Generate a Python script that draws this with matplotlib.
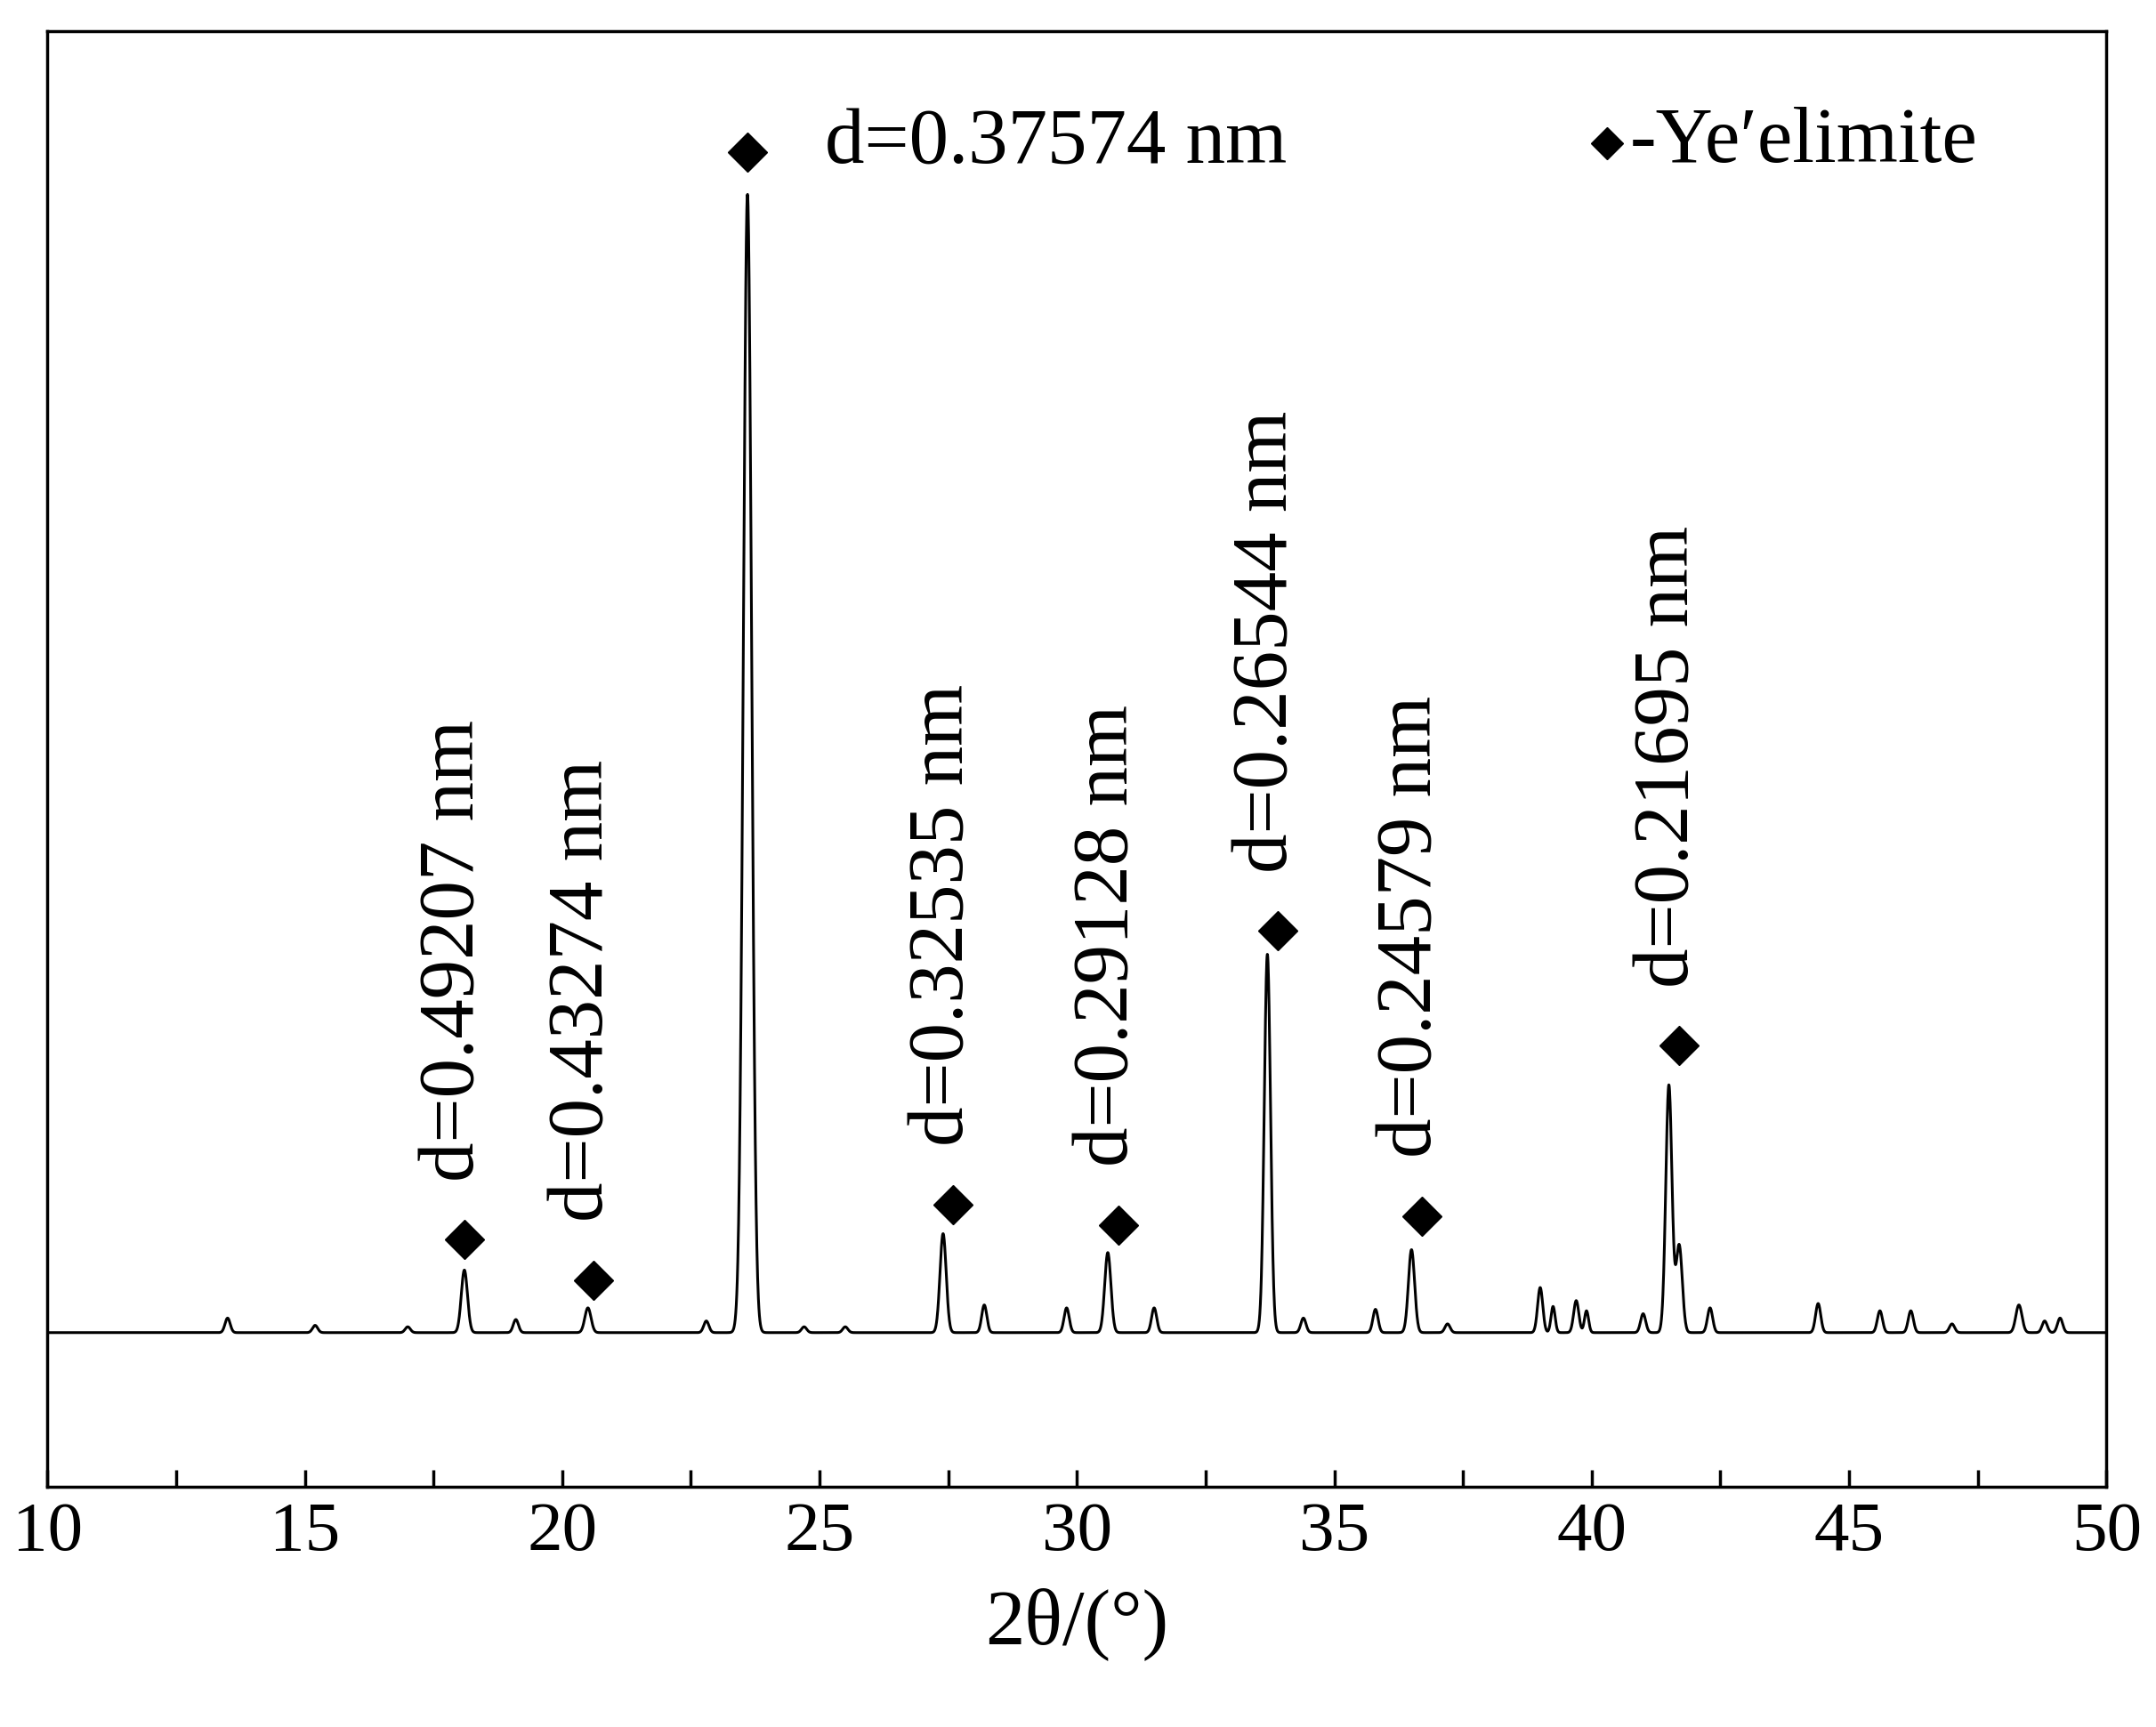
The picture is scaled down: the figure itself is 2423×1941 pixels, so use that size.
import numpy as np
import matplotlib.pyplot as plt

plt.rcParams['font.family'] = ['Liberation Serif', 'DejaVu Serif']

peak_pos = [13.5, 15.2, 17.0, 18.1, 19.1, 20.5, 22.8, 23.6, 24.7, 25.5, 27.4, 28.2, 29.8, 30.6, 31.5,
            33.7, 34.4, 35.8, 36.5, 37.2, 39.0, 39.25, 39.7, 39.9, 41.0, 41.5, 41.7, 42.3, 44.4,
            45.6, 46.2, 47.0, 48.3, 48.8, 49.1]
peak_h = [1.0, 0.5, 0.4, 4.3, 0.9, 1.7, 0.8, 78.2, 0.4, 0.4, 6.8, 1.9, 1.7, 5.5, 1.7,
          26.0, 1.0, 1.6, 5.7, 0.6, 3.1, 1.8, 2.2, 1.5, 1.3, 17.0, 6.0, 1.7, 2.0,
          1.5, 1.5, 0.6, 1.9, 0.8, 1.0]
peak_w = [0.05, 0.05, 0.05, 0.06, 0.05, 0.06, 0.05, 0.08, 0.05, 0.05, 0.06, 0.05, 0.05, 0.06, 0.05,
          0.06, 0.05, 0.05, 0.06, 0.05, 0.05, 0.04, 0.05, 0.04, 0.05, 0.06, 0.06, 0.05, 0.05,
          0.05, 0.05, 0.05, 0.06, 0.05, 0.05]
baseline = 10.6

# annotated Ye'elimite reflections
mark_x = [18.1, 20.6, 23.6, 27.6, 30.8, 33.9, 36.7, 41.7]
mark_y = [17.0, 14.2, 91.7, 19.4, 18.0, 38.2, 18.6, 30.3]
d_labels = ['d=0.49207 nm', 'd=0.43274 nm', 'd=0.37574 nm', 'd=0.32535 nm', 'd=0.29128 nm',
            'd=0.26544 nm', 'd=0.24579 nm', 'd=0.21695 nm']

tt = np.linspace(10, 50, 8000)
inten = np.full_like(tt, baseline)
for p, h, w in zip(peak_pos, peak_h, peak_w):
    inten += h * np.exp(-0.5 * ((tt - p) / w) ** 2)

fig = plt.figure(figsize=(24.23, 19.41), dpi=100)
ax = fig.add_axes([0.022, 0.139, 0.955, 0.843])
ax.plot(tt, inten, color='black', lw=2.2)
ax.set_xlim(10, 50)
ax.set_ylim(0, 100)
ax.set_yticks([])
ax.set_xticks(range(10, 51, 5))
ax.set_xticks(np.arange(12.5, 50, 5), minor=True)
ax.tick_params(axis='x', which='both', direction='in', length=14, width=2.5, labelsize=57, pad=12)
for s in ax.spines.values():
    s.set_linewidth(2.5)

ax.plot(mark_x, mark_y, 'D', color='black', markersize=22, linestyle='none')
for x, y, lab in zip(mark_x, mark_y, d_labels):
    if y > 80:
        ax.text(x + 1.5, y + 0.6, lab, fontsize=64, va='center', ha='left')
    else:
        ax.text(x - 0.2, y + 4.0, lab, fontsize=64, rotation=90, va='bottom', ha='center')

ax.plot([40.3], [92.3], 'D', color='black', markersize=18)
ax.text(40.75, 92.3, '-Ye\u2032elimite', fontsize=64, va='center', ha='left')

ax.set_xlabel('2θ/(°)', fontsize=64, labelpad=18)
fig.savefig('out.png', dpi=100)
